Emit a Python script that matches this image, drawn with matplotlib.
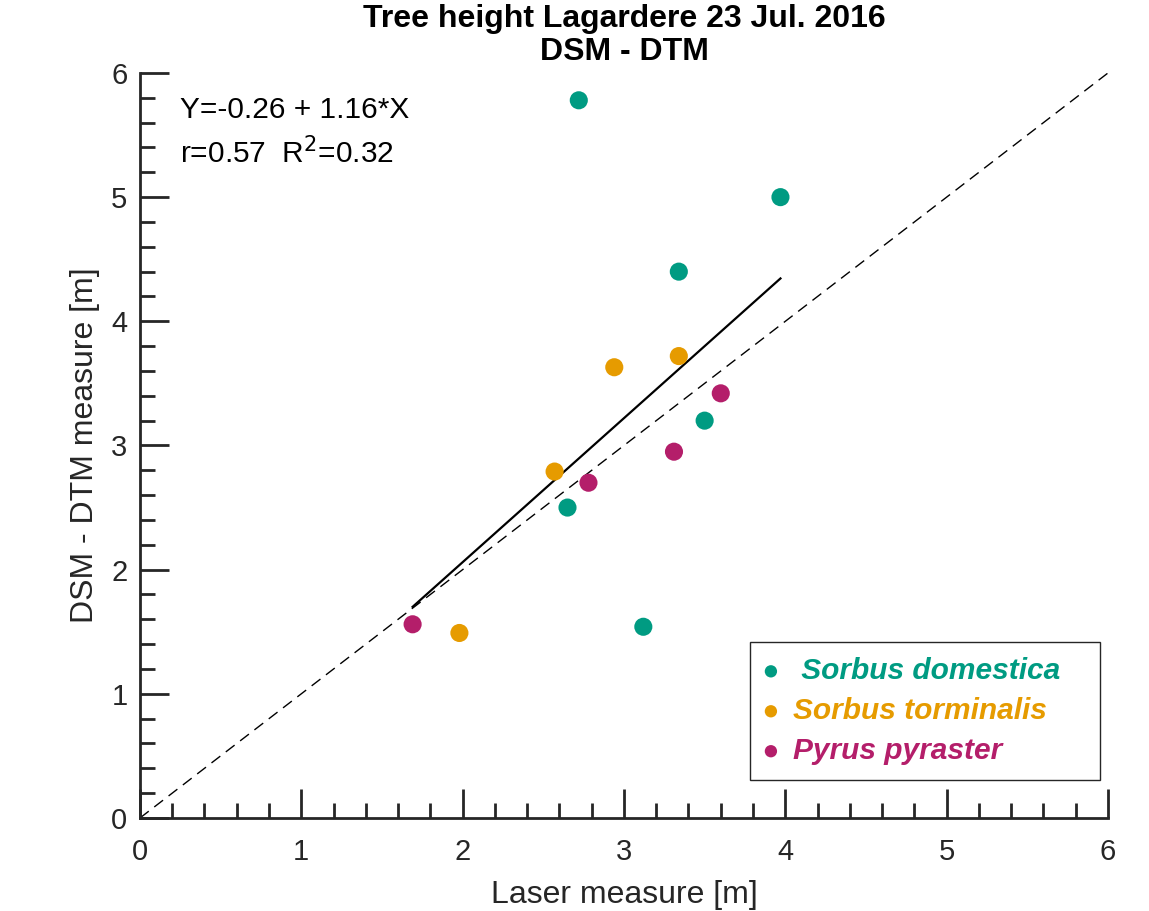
import numpy as np
import matplotlib
matplotlib.use('Agg')
import matplotlib.pyplot as plt
from matplotlib.ticker import MultipleLocator

plt.rcParams['font.family'] = ['Liberation Sans', 'DejaVu Sans']

# Laser measure (x) vs DSM - DTM measure (y), per species
domestica_x = [2.72, 3.97, 3.34, 3.50, 2.65, 3.12]
domestica_y = [5.78, 5.00, 4.40, 3.20, 2.50, 1.54]
torminalis_x = [2.94, 3.34, 2.57, 1.98]
torminalis_y = [3.63, 3.72, 2.79, 1.49]
pyraster_x = [3.60, 3.31, 2.78, 1.69]
pyraster_y = [3.42, 2.95, 2.70, 1.56]

species = [' Sorbus domestica', 'Sorbus torminalis', 'Pyrus pyraster']
colors = ['#009B82', '#E69B00', '#B41E6A']

intercept, slope = -0.26, 1.16
r_val, r2_val = 0.57, 0.32

fig = plt.figure(figsize=(11.49, 9.11), dpi=100)
ax = fig.add_axes([0.1218, 0.1021, 0.8425, 0.8178])

# 1:1 line
ax.plot([0, 6], [0, 6], 'k--', lw=1, dashes=(8, 5))

# regression line over the data range
all_x = np.array(domestica_x + torminalis_x + pyraster_x)
xl = np.array([all_x.min(), all_x.max()])
ax.plot(xl, intercept + slope * xl, 'k-', lw=1.6)

groups = [(domestica_x, domestica_y), (torminalis_x, torminalis_y), (pyraster_x, pyraster_y)]
for (gx, gy), name, c in zip(groups, species, colors):
    # trailing spaces give the legend box its extra room on the right
    ax.scatter(gx, gy, s=170, color=c, label=name + '   ', zorder=3, edgecolors='none')

ax.text(0.25, 5.64, 'Y=%.2f + %.2f*X' % (intercept, slope), fontsize=21.5)
ax.text(0.25, 5.27, 'r=%.2f  R$^2$=%.2f' % (r_val, r2_val), fontsize=21.5)

ax.set_xlim(0, 6)
ax.set_ylim(0, 6)
ax.xaxis.set_major_locator(MultipleLocator(1))
ax.yaxis.set_major_locator(MultipleLocator(1))
ax.xaxis.set_minor_locator(MultipleLocator(0.2))
ax.yaxis.set_minor_locator(MultipleLocator(0.2))
ax.tick_params(which='major', direction='in', length=21, width=2, labelsize=21,
               color='#262626', labelcolor='#262626')
ax.tick_params(axis='x', which='major', pad=14.5)
ax.tick_params(axis='y', which='major', pad=9)
ax.tick_params(which='minor', direction='in', length=11, width=2, color='#262626')
for side in ['top', 'right']:
    ax.spines[side].set_visible(False)
for side in ['left', 'bottom']:
    ax.spines[side].set_linewidth(2)
    ax.spines[side].set_color('#262626')

ax.set_xlabel('Laser measure [m]', fontsize=23, color='#262626', labelpad=10)
ax.set_ylabel('DSM - DTM measure [m]', fontsize=23, color='#262626', labelpad=8)
ax.set_title('Tree height Lagardere 23 Jul. 2016\nDSM - DTM', fontsize=23,
             fontweight='bold', linespacing=1.15, pad=9)

leg = ax.legend(loc='lower right', bbox_to_anchor=(0.992, 0.051), fancybox=False,
                edgecolor='#262626', framealpha=1, markerscale=0.68,
                prop={'size': 21.5, 'weight': 'bold', 'style': 'italic'},
                handletextpad=0.55, handlelength=0.4, borderpad=0.5,
                labelspacing=0.4, borderaxespad=0)
leg.get_frame().set_linewidth(1)
for t, c in zip(leg.get_texts(), colors):
    t.set_color(c)

fig.savefig('out.png', dpi=100)
